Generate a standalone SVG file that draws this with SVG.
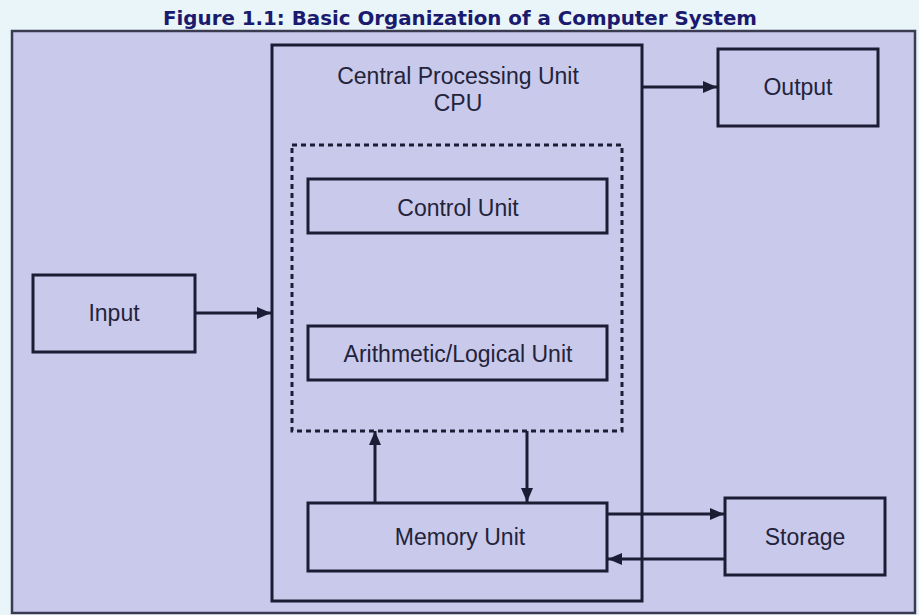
<svg xmlns="http://www.w3.org/2000/svg" width="919" height="615" viewBox="0 0 919 615">
  <style>
    .box { fill: #c9c9ec; stroke: #1c1c35; stroke-width: 3; }
    .lbl { font-family: "Liberation Sans", Arial, sans-serif; font-size: 23px; fill: #23233a; text-anchor: middle; }
    .conn { stroke: #1c1c35; stroke-width: 3; fill: none; }
  </style>
  <defs>
    <marker id="arr" viewBox="0 0 14 12" refX="14" refY="6" markerWidth="14" markerHeight="12" markerUnits="userSpaceOnUse" orient="auto">
      <path d="M0,0 L14,6 L0,12 Z" fill="#1c1c35"/>
    </marker>
  </defs>
  <rect x="0" y="0" width="919" height="615" fill="#eaf5fa"/>
  <text x="460" y="25" font-family="'DejaVu Sans', Verdana, sans-serif" font-weight="bold" font-size="19" fill="#1a1a6e" text-anchor="middle" textLength="594" lengthAdjust="spacingAndGlyphs">Figure 1.1: Basic Organization of a Computer System</text>
  <g id="frame">
    <rect x="12" y="31" width="903" height="582" fill="#c9c9ec" stroke="#3a3a50" stroke-width="2.5"/>
  </g>
  <g id="cpu">
    <rect class="box" x="272" y="45" width="370" height="556"/>
    <text class="lbl" x="458" y="84">Central Processing Unit</text>
    <text class="lbl" x="458" y="111">CPU</text>
  </g>
  <g id="core">
    <rect x="292" y="145" width="330" height="286" fill="none" stroke="#1c1c35" stroke-width="3" stroke-dasharray="5 4"/>
  </g>
  <g id="control">
    <rect class="box" x="308" y="179" width="299" height="54"/>
    <text class="lbl" x="458" y="216">Control Unit</text>
  </g>
  <g id="alu">
    <rect class="box" x="308" y="326" width="299" height="54"/>
    <text class="lbl" x="458" y="362">Arithmetic/Logical Unit</text>
  </g>
  <g id="memory">
    <rect class="box" x="308" y="503" width="299" height="68"/>
    <text class="lbl" x="460" y="545">Memory Unit</text>
  </g>
  <g id="input">
    <rect class="box" x="33" y="275" width="162" height="77"/>
    <text class="lbl" x="114" y="321">Input</text>
  </g>
  <g id="output">
    <rect class="box" x="718" y="49" width="160" height="77"/>
    <text class="lbl" x="798" y="95">Output</text>
  </g>
  <g id="storage">
    <rect class="box" x="725" y="498" width="160" height="77"/>
    <text class="lbl" x="805" y="545">Storage</text>
  </g>
  <g id="connectors">
    <line class="conn" x1="195" y1="313" x2="271" y2="313" marker-end="url(#arr)"/>
    <line class="conn" x1="642" y1="87" x2="717" y2="87" marker-end="url(#arr)"/>
    <line class="conn" x1="375" y1="503" x2="375" y2="431" marker-end="url(#arr)"/>
    <line class="conn" x1="527" y1="431" x2="527" y2="502" marker-end="url(#arr)"/>
    <line class="conn" x1="607" y1="514" x2="724" y2="514" marker-end="url(#arr)"/>
    <line class="conn" x1="725" y1="559" x2="608" y2="559" marker-end="url(#arr)"/>
  </g>
</svg>
